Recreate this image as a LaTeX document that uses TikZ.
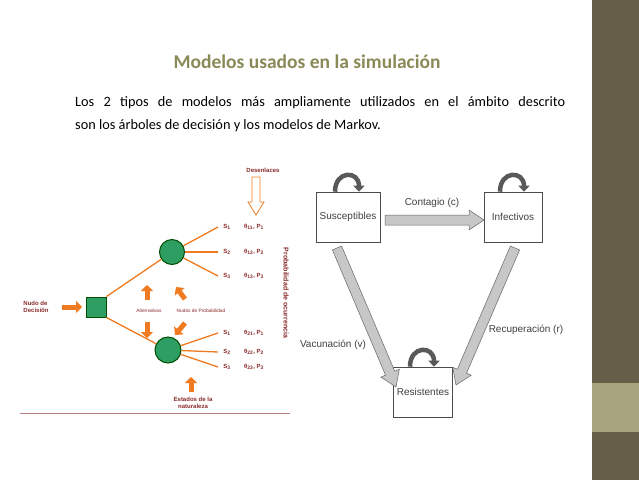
\documentclass[tikz,border=0pt]{standalone}
\usepackage{fontspec}
\setmainfont{Carlito}
\newfontfamily\lib{Liberation Sans}
\usetikzlibrary{calc,arrows.meta}
\definecolor{band}{HTML}{665E48}
\definecolor{bandl}{HTML}{A8A57E}
\definecolor{ttl}{HTML}{8A8A58}
\definecolor{tr}{HTML}{8B2A2A}
\definecolor{org}{HTML}{F07A20}
\definecolor{grn}{HTML}{2E9E63}
\tikzset{
 tt/.style={font=\lib\bfseries\fontsize{6}{7}\selectfont, text=tr, inner sep=0pt},
 br/.style={org, line width=1.3pt},
 oarr/.style={org, line width=5pt, -{Triangle[length=6pt,width=12pt]}},
 mbox/.style={draw=black!70, fill=white, line width=0.6pt, minimum width=64pt, minimum height=50pt, font=\lib\fontsize{10}{12}\selectfont, text=black!75},
 mlab/.style={font=\lib\fontsize{10}{12}\selectfont, text=black!75},
 barrow/.style={fill=black!22, draw=black!60, line width=0.5pt},
 loopar/.style={black!65, line width=4.5pt, -{Triangle[length=6pt,width=11pt]}},
}
\newcommand\blockarrow[2]{%
 \path coordinate (bb) at ($(#2)!15pt!(#1)$);
 \filldraw[barrow] ($(#1)!5pt!90:(bb)$) -- ($(bb)!5pt!-90:(#1)$) -- ($(bb)!10pt!-90:(#1)$) -- (#2)
   -- ($(bb)!10pt!90:(#1)$) -- ($(bb)!5pt!90:(#1)$) -- ($(#1)!5pt!-90:(bb)$) -- cycle;}
\begin{document}
\begin{tikzpicture}[x=1pt,y=-1pt]
\useasboundingbox (0,0) rectangle (639,480);
\fill[white] (0,0) rectangle (639,480);
\fill[band] (592,0) rectangle (639,480);
\fill[bandl] (592,383) rectangle (639,432);
\node[font=\fontsize{19.5}{22}\selectfont\bfseries, text=ttl] (title) at (307,62) {Modelos usados en la simulación};
\node[anchor=north west, inner sep=0pt, align=left, font=\fontsize{14.3}{23}\selectfont] (body) at (75,96) {%
\makebox[490pt][s]{Los 2 tipos de modelos más ampliamente utilizados en el ámbito descrito}\\
son los árboles de decisión y los modelos de Markov.};
% decision tree
\node[draw=black!70!green, fill=grn, line width=1pt, minimum size=20pt, inner sep=0pt] (D) at (96,307) {};
\node[circle, draw=black!70!green, fill=grn, line width=1pt, minimum size=25pt, inner sep=0pt] (C1) at (172,252) {};
\node[circle, draw=black!70!green, fill=grn, line width=1pt, minimum size=26pt, inner sep=0pt] (C2) at (168,350) {};
\draw[br] (D.north east) -- (C1);
\draw[br] (D.south east) -- (C2);
\foreach \n/\y in {a/227,b/252,c/276}{\coordinate (u\n) at (218,\y); \draw[br] (C1) -- (u\n);}
\foreach \n/\y in {a/333,b/352,c/367}{\coordinate (l\n) at (218,\y); \draw[br] (C2) -- (l\n);}
\foreach \n/\y/\s/\t in {1/227/1/11,2/252/2/12,3/276/3/13,4/333/1/21,5/352/2/22,6/367/3/23}{
 \node[tt] (s\n) at (227,\y) {S\textsubscript{\s}};
 \node[tt] (t\n) at (254,\y) {θ\textsubscript{\t}, P\textsubscript{\s}};}
\node[tt, rotate=-90, font=\lib\bfseries\fontsize{7}{8}\selectfont] (prob) at (286,293) {Probabilidad de ocurrencia};
\node[tt] (des) at (263,170) {Desenlaces};
\filldraw[draw=org, fill=white, line width=0.8pt] (252,177) -- (260,177) -- (260,202) -- (264,202) -- (256,215) -- (248,202) -- (252,202) -- cycle;
\node[tt, align=left, font=\lib\bfseries\fontsize{6}{7.5}\selectfont] (nd) at (36,307) {Nudo de\\Decisión};
\coordinate (na) at (62,307); \coordinate (nb) at (82,307);
\draw[oarr] (na) -- (nb);
\node[tt, font=\lib\fontsize{4.8}{5}\selectfont] (alt) at (149,311) {Alternativas};
\node[tt, font=\lib\fontsize{4.8}{5}\selectfont] (nud) at (201,311) {Nudos de Probabilidad};
\draw[oarr] (147,300) -- (147,285);
\draw[oarr] (185,299) -- (176,287);
\draw[oarr] (147,322) -- (147,338);
\draw[oarr] (185,323) -- (175,335);
\draw[oarr] (191,392) -- (191,377);
\node[tt, align=center, font=\lib\bfseries\fontsize{6}{7.5}\selectfont] (est) at (193,403) {Estados de la\\naturaleza};
\coordinate (bl1) at (20,413); \coordinate (bl2) at (290,413);
\draw[tr!60, line width=0.6pt] (bl1) -- (bl2);
% Markov
\node[mbox] (S) at (348,217) {Susceptibles};
\node[mbox, minimum width=58pt] (I) at (513,217) {Infectivos};
\node[mbox, minimum width=57pt] (R) at (423,392) {Resistentes};
\foreach \b in {S,I,R}{\draw[loopar] ([xshift=-13pt]\b.north) to[out=90,in=90,looseness=2.3] ([xshift=11pt]\b.north);}
\coordinate (c1) at (385,220); \coordinate (c2) at (484,220);
\blockarrow{c1}{c2}
\coordinate (v1) at (337,248); \coordinate (v2) at (396,387);
\blockarrow{v1}{v2}
\coordinate (r1) at (515,248); \coordinate (r2) at (456,385);
\blockarrow{r1}{r2}
\node[mlab] (lc) at (432,203) {Contagio (c)};
\node[mlab] (lv) at (333,345) {Vacunación (v)};
\node[mlab] (lr) at (526,330) {Recuperación (r)};
\end{tikzpicture}
\end{document}
